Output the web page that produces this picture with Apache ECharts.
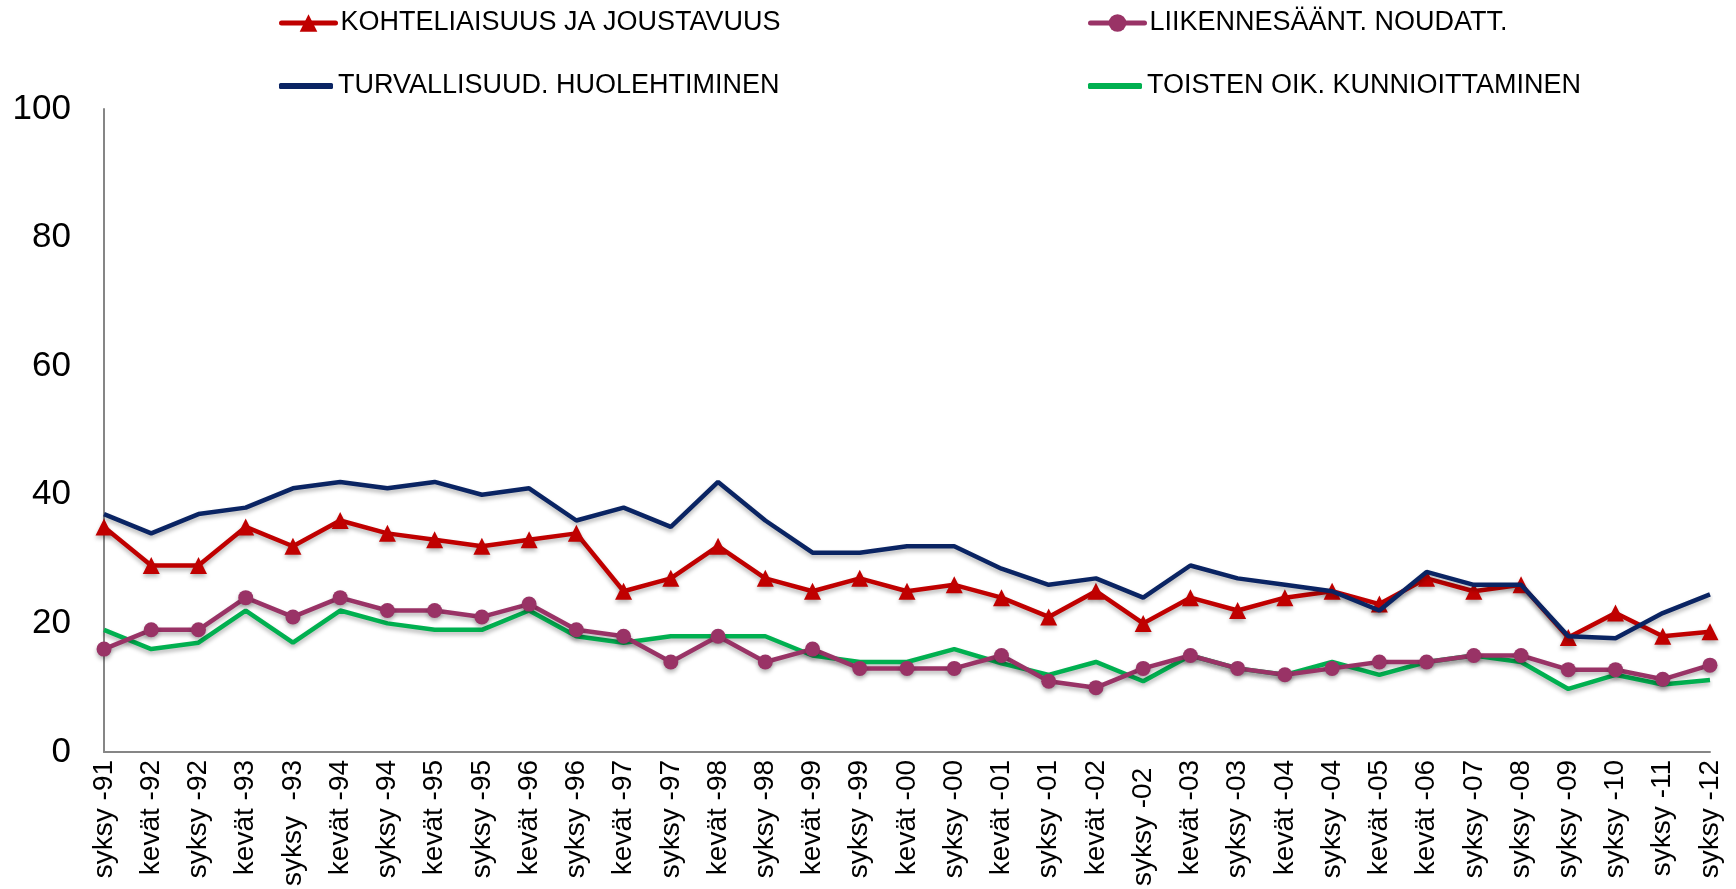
<!DOCTYPE html>
<html>
<head>
<meta charset="utf-8">
<script src="https://cdn.jsdelivr.net/npm/echarts@6/dist/echarts.min.js"></script>
<style>
html,body{margin:0;padding:0;background:#fff;}
#chart{width:1736px;height:889px;}
</style>
</head>
<body>
<div id="chart"></div>
<script>
const categories = ['syksy -91','kevät -92','syksy -92','kevät -93','syksy  -93','kevät -94','syksy -94','kevät -95','syksy -95','kevät -96','syksy -96','kevät -97','syksy -97','kevät -98','syksy -98','kevät -99','syksy -99','kevät -00','syksy -00','kevät -01','syksy -01','kevät -02','syksy -02 ','kevät -03','syksy -03','kevät -04','syksy -04','kevät -05','kevät -06','syksy -07','syksy -08','syksy -09','syksy -10','syksy -11','syksy -12'];
const yTicks = [0, 20, 40, 60, 80, 100];

const kohteliaisuus = [35,29,29,35,32,36,34,33,32,33,34,25,27,32,27,25,27,25,26,24,21,25,20,24,22,24,25,23,27,25,26,17.8,21.6,18,18.7];
const turvallisuus  = [37,34,37,38,41,42,41,42,40,41,36,38,35,42,36,31,31,32,32,28.5,26,27,24,29,27,26,25,22,28,26,26,18,17.7,21.6,24.5];
const liikenne      = [16,19,19,24,21,24,22,22,21,23,19,18,14,18,14,16,13,13,13,15,11,10,13,15,13,12,13,14,14,15,15,12.8,12.8,11.3,13.5];
const toisten       = [19,16,17,22,17,22,20,19,19,22,18,17,18,18,18,15,14,14,16,13.8,12,14,11,15,13,12,14,12,14,15,14,9.8,12,10.5,11.2];

const names = ['KOHTELIAISUUS JA JOUSTAVUUS','TURVALLISUUD. HUOLEHTIMINEN','LIIKENNESÄÄNT. NOUDATT.','TOISTEN OIK. KUNNIOITTAMINEN'];
const FONT = '"Liberation Sans", Arial, sans-serif';
const shadow = {shadowColor:'rgba(0,0,0,0.28)', shadowBlur:4, shadowOffsetY:3};

const chart = echarts.init(document.getElementById('chart'), null, {renderer:'canvas'});
const legendText = {fontFamily:FONT, fontSize:27, color:'#000', lineHeight:30};
function lg(left, top, name, extra){
  return Object.assign({left:left, top:top, itemWidth:54, itemHeight:22, itemGap:0,
    textStyle:legendText, data:[name], selectedMode:false,
    lineStyle:{width:5, cap:'round'}}, extra||{});
}
chart.setOption({
  backgroundColor:'#fff',
  animation:false,
  legend:[
    lg(274, 3, names[0]),
    lg(274, 66, names[1], {icon:'roundRect', itemHeight:6}),
    lg(1083, 3, names[2]),
    lg(1083, 66, names[3], {icon:'roundRect', itemHeight:6})
  ],
  grid:{left:104, right:26, top:109, bottom:135},
  xAxis:{
    type:'category', data:categories, boundaryGap:false,
    axisLine:{show:true, lineStyle:{color:'#868686', width:2}},
    axisTick:{show:false},
    axisLabel:{rotate:90, interval:0, margin:8, fontFamily:FONT, fontSize:28, color:'#000'},
    splitLine:{show:false}
  },
  yAxis:{
    type:'value', min:yTicks[0], max:yTicks[yTicks.length-1], interval:yTicks[1]-yTicks[0],
    axisLine:{show:true, lineStyle:{color:'#868686', width:2}},
    axisTick:{show:false},
    axisLabel:{margin:33, fontFamily:FONT, fontSize:35, color:'#000'},
    splitLine:{show:false}
  },
  series:[
    {name:names[0], type:'line', data:kohteliaisuus, symbol:'triangle', symbolSize:17,
     color:'#C00000', lineStyle:Object.assign({width:4.5, color:'#C00000'}, shadow),
     itemStyle:Object.assign({color:'#C00000'}, shadow), z:3},
    {name:names[1], type:'line', data:turvallisuus, symbol:'none',
     color:'#0A2463', lineStyle:Object.assign({width:4.5, color:'#0A2463'}, shadow), z:4},
    {name:names[2], type:'line', data:liikenne, symbol:'circle', symbolSize:15,
     color:'#993366', lineStyle:Object.assign({width:4.5, color:'#993366'}, shadow),
     itemStyle:Object.assign({color:'#993366'}, shadow), z:2},
    {name:names[3], type:'line', data:toisten, symbol:'none',
     color:'#00B050', lineStyle:Object.assign({width:4.5, color:'#00B050'}, shadow), z:1}
  ]
});
</script>
</body>
</html>
